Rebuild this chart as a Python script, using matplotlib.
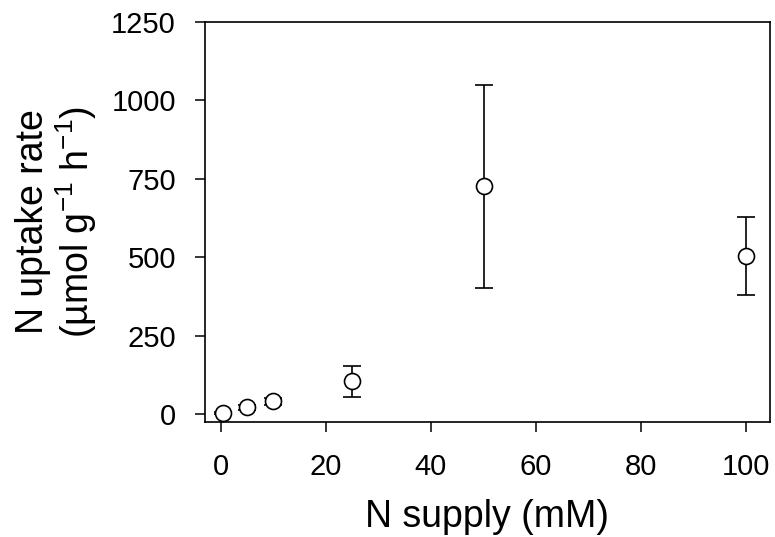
import matplotlib
matplotlib.use("Agg")
import matplotlib.pyplot as plt

plt.rcParams['font.family'] = ['Liberation Sans', 'DejaVu Sans']
plt.rcParams['mathtext.fontset'] = 'custom'
plt.rcParams['mathtext.rm'] = 'Liberation Sans'
plt.rcParams['mathtext.it'] = 'Liberation Sans'

n_supply = [0.5, 5, 10, 25, 50, 100]
uptake = [3, 22, 41, 105, 726, 505]
err = [3, 8, 10, 50, 323, 124]
xticks = [0, 20, 40, 60, 80, 100]
yticks = [0, 250, 500, 750, 1000, 1250]

fig = plt.figure(figsize=(7.75, 5.37), dpi=100)
ax = fig.add_axes([0.2645, 0.214, 0.729, 0.745])
ax.errorbar(n_supply, uptake, yerr=err, fmt='o', color='black', mfc='white',
            mec='black', ms=11.5, mew=1.2, elinewidth=1.2, capsize=6.5, capthick=1.2)
ax.set_xlim(-3, 104.5)
ax.set_ylim(-25, 1250)
ax.set_xticks(xticks)
ax.set_yticks(yticks)
ax.tick_params(direction='out', length=7, width=1.1, labelsize=21)
ax.tick_params(axis='x', pad=15)
ax.tick_params(axis='y', pad=14)
for s in ax.spines.values():
    s.set_linewidth(1.2)
ax.set_xlabel('N supply (mM)', fontsize=27, labelpad=13)
ax.set_ylabel('N uptake rate\n(µmol g$^{-1}$ h$^{-1}$)', fontsize=27, labelpad=9, linespacing=1.05)
fig.savefig('out.png', dpi=100)
